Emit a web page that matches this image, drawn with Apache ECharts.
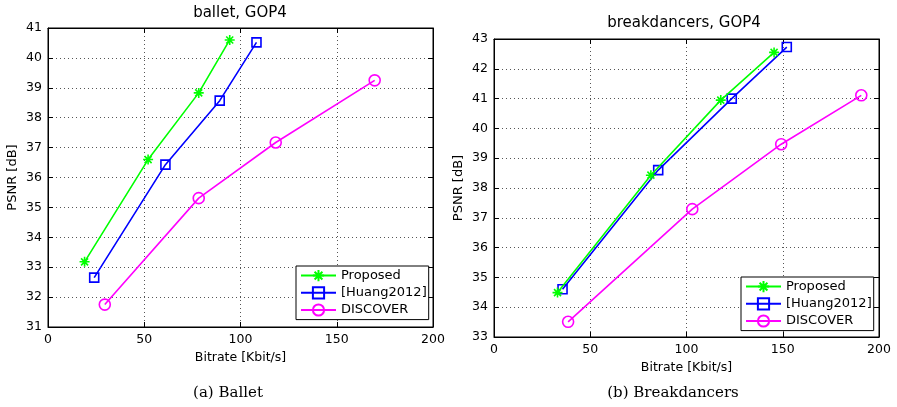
<!DOCTYPE html>
<html>
<head>
<meta charset="utf-8">
<script src="https://cdn.jsdelivr.net/npm/echarts@6/dist/echarts.min.js"></script>
<style>
  html, body { margin: 0; padding: 0; background: #fff; }
  #main { width: 897px; height: 407px; }
</style>
</head>
<body>
<div id="main"></div>
<script>
// 图例名称
const seriesNames = ['Proposed', '[Huang2012]', 'DISCOVER'];

// ballet, GOP4 (码率 / PSNR)
const balletProposedRate = [19, 52, 78.3, 94.4];
const balletProposedPsnr = [33.18, 36.6, 38.83, 40.6];
const balletHuangRate = [24, 61, 89.2, 108.3];
const balletHuangPsnr = [32.65, 36.43, 38.57, 40.52];
const balletDiscoverRate = [29.5, 78.3, 118.3, 169.7];
const balletDiscoverPsnr = [31.75, 35.31, 37.17, 39.25];

// breakdancers, GOP4
const breakProposedRate = [33, 81.5, 117.8, 145.5];
const breakProposedPsnr = [34.49, 38.43, 40.95, 42.55];
const breakHuangRate = [35.6, 85.3, 123.5, 152.1];
const breakHuangPsnr = [34.6, 38.6, 41.0, 42.73];
const breakDiscoverRate = [38.5, 103, 149.2, 190.8];
const breakDiscoverPsnr = [33.51, 37.29, 39.47, 41.11];

// 坐标轴刻度
const xTicks = [0, 50, 100, 150, 200];
const balletYRange = [31, 41];
const breakYRange = [33, 43];

const colors = ['#00ff00', '#0000ff', '#ff00ff'];
const symbols = [
    'path://M5,0L5,10M0,5L10,5M1.5,1.5L8.5,8.5M1.5,8.5L8.5,1.5',
    'rect',
    'circle'
];
const symbolSizes = [10, 9, 11];
const FONT = 'DejaVu Sans';

function zip(xs, ys) {
    return xs.map((x, i) => [x, ys[i]]);
}

function makeSeries(idx, axisIdx, rate, psnr) {
    return {
        name: seriesNames[idx],
        type: 'line',
        xAxisIndex: axisIdx,
        yAxisIndex: axisIdx,
        data: zip(rate, psnr),
        symbol: symbols[idx],
        symbolSize: symbolSizes[idx],
        showAllSymbol: true,
        lineStyle: { color: colors[idx], width: 1.6 },
        itemStyle: { color: 'rgba(0,0,0,0)', borderColor: colors[idx], borderWidth: 1.6 },
        emphasis: { disabled: true },
        animation: false,
        z: 3 - idx + 2
    };
}

function mainXAxis(gridIndex) {
    return {
        type: 'value', gridIndex: gridIndex,
        min: xTicks[0], max: xTicks[xTicks.length - 1], interval: 50,
        name: 'Bitrate [Kbit/s]', nameLocation: 'middle', nameGap: 22,
        nameTextStyle: { fontFamily: FONT, fontSize: 12.5, color: '#000' },
        axisLine: { show: true, onZero: false, lineStyle: { color: '#000', width: 1 } },
        axisTick: { show: true, inside: true, length: 5, lineStyle: { color: '#000' } },
        axisLabel: { fontFamily: FONT, fontSize: 12.5, color: '#000', margin: 6 },
        splitLine: { show: true, lineStyle: { color: '#555', type: [1, 3], width: 1 } }
    };
}

function mainYAxis(gridIndex, range) {
    return {
        type: 'value', gridIndex: gridIndex,
        min: range[0], max: range[1], interval: 1,
        name: 'PSNR [dB]', nameLocation: 'middle', nameGap: 29,
        nameTextStyle: { fontFamily: FONT, fontSize: 13, color: '#000' },
        axisLine: { show: true, onZero: false, lineStyle: { color: '#000', width: 1 } },
        axisTick: { show: true, inside: true, length: 5, lineStyle: { color: '#000' } },
        axisLabel: { fontFamily: FONT, fontSize: 12.5, color: '#000', margin: 6 },
        splitLine: { show: true, lineStyle: { color: '#555', type: [1, 3], width: 1 } }
    };
}

// 上方 / 右侧镜像轴：只画刻度
function mirrorX(gridIndex) {
    return {
        type: 'value', gridIndex: gridIndex, position: 'top',
        min: xTicks[0], max: xTicks[xTicks.length - 1], interval: 50,
        axisLine: { show: true, onZero: false, lineStyle: { color: '#000' } },
        axisTick: { show: true, inside: true, length: 5, lineStyle: { color: '#000' } },
        axisLabel: { show: false }, splitLine: { show: false }
    };
}

function mirrorY(gridIndex, range) {
    return {
        type: 'value', gridIndex: gridIndex, position: 'right',
        min: range[0], max: range[1], interval: 1,
        axisLine: { show: true, onZero: false, lineStyle: { color: '#000' } },
        axisTick: { show: true, inside: true, length: 5, lineStyle: { color: '#000' } },
        axisLabel: { show: false }, splitLine: { show: false }
    };
}

function makeLegend(left, top) {
    return {
        left: left, top: top,
        orient: 'vertical',
        data: seriesNames,
        itemWidth: 35, itemHeight: 14, itemGap: 4,
        padding: [3, 2, 3, 4],
        borderColor: '#000', borderWidth: 1,
        backgroundColor: '#fff',
        selectedMode: false,
        textStyle: { fontFamily: FONT, fontSize: 13, color: '#000' }
    };
}

const chart = echarts.init(document.getElementById('main'), null, { renderer: 'canvas' });

chart.setOption({
    backgroundColor: '#fff',
    animation: false,
    grid: [
        { left: 48, right: 464, top: 28, bottom: 80, show: true, borderColor: '#000', borderWidth: 1, backgroundColor: 'transparent' },
        { left: 494, right: 18, top: 39, bottom: 70, show: true, borderColor: '#000', borderWidth: 1, backgroundColor: 'transparent' }
    ],
    xAxis: [mainXAxis(0), mainXAxis(1), mirrorX(0), mirrorX(1)],
    yAxis: [mainYAxis(0, balletYRange), mainYAxis(1, breakYRange), mirrorY(0, balletYRange), mirrorY(1, breakYRange)],
    legend: [makeLegend(296, 266), makeLegend(741, 277)],
    graphic: [
        { type: 'text', x: 240, y: 13, style: { text: 'ballet, GOP4', fontFamily: FONT, fontSize: 15, fill: '#000', align: 'center', verticalAlign: 'middle' } },
        { type: 'text', x: 684, y: 23, style: { text: 'breakdancers, GOP4', fontFamily: FONT, fontSize: 15, fill: '#000', align: 'center', verticalAlign: 'middle' } },
        { type: 'text', x: 228, y: 393, style: { text: '(a) Ballet', fontFamily: 'DejaVu Serif', fontSize: 15, fill: '#000', align: 'center', verticalAlign: 'middle' } },
        { type: 'text', x: 673, y: 393, style: { text: '(b) Breakdancers', fontFamily: 'DejaVu Serif', fontSize: 15, fill: '#000', align: 'center', verticalAlign: 'middle' } }
    ],
    series: [
        makeSeries(0, 0, balletProposedRate, balletProposedPsnr),
        makeSeries(1, 0, balletHuangRate, balletHuangPsnr),
        makeSeries(2, 0, balletDiscoverRate, balletDiscoverPsnr),
        makeSeries(0, 1, breakProposedRate, breakProposedPsnr),
        makeSeries(1, 1, breakHuangRate, breakHuangPsnr),
        makeSeries(2, 1, breakDiscoverRate, breakDiscoverPsnr)
    ]
});
</script>
</body>
</html>
